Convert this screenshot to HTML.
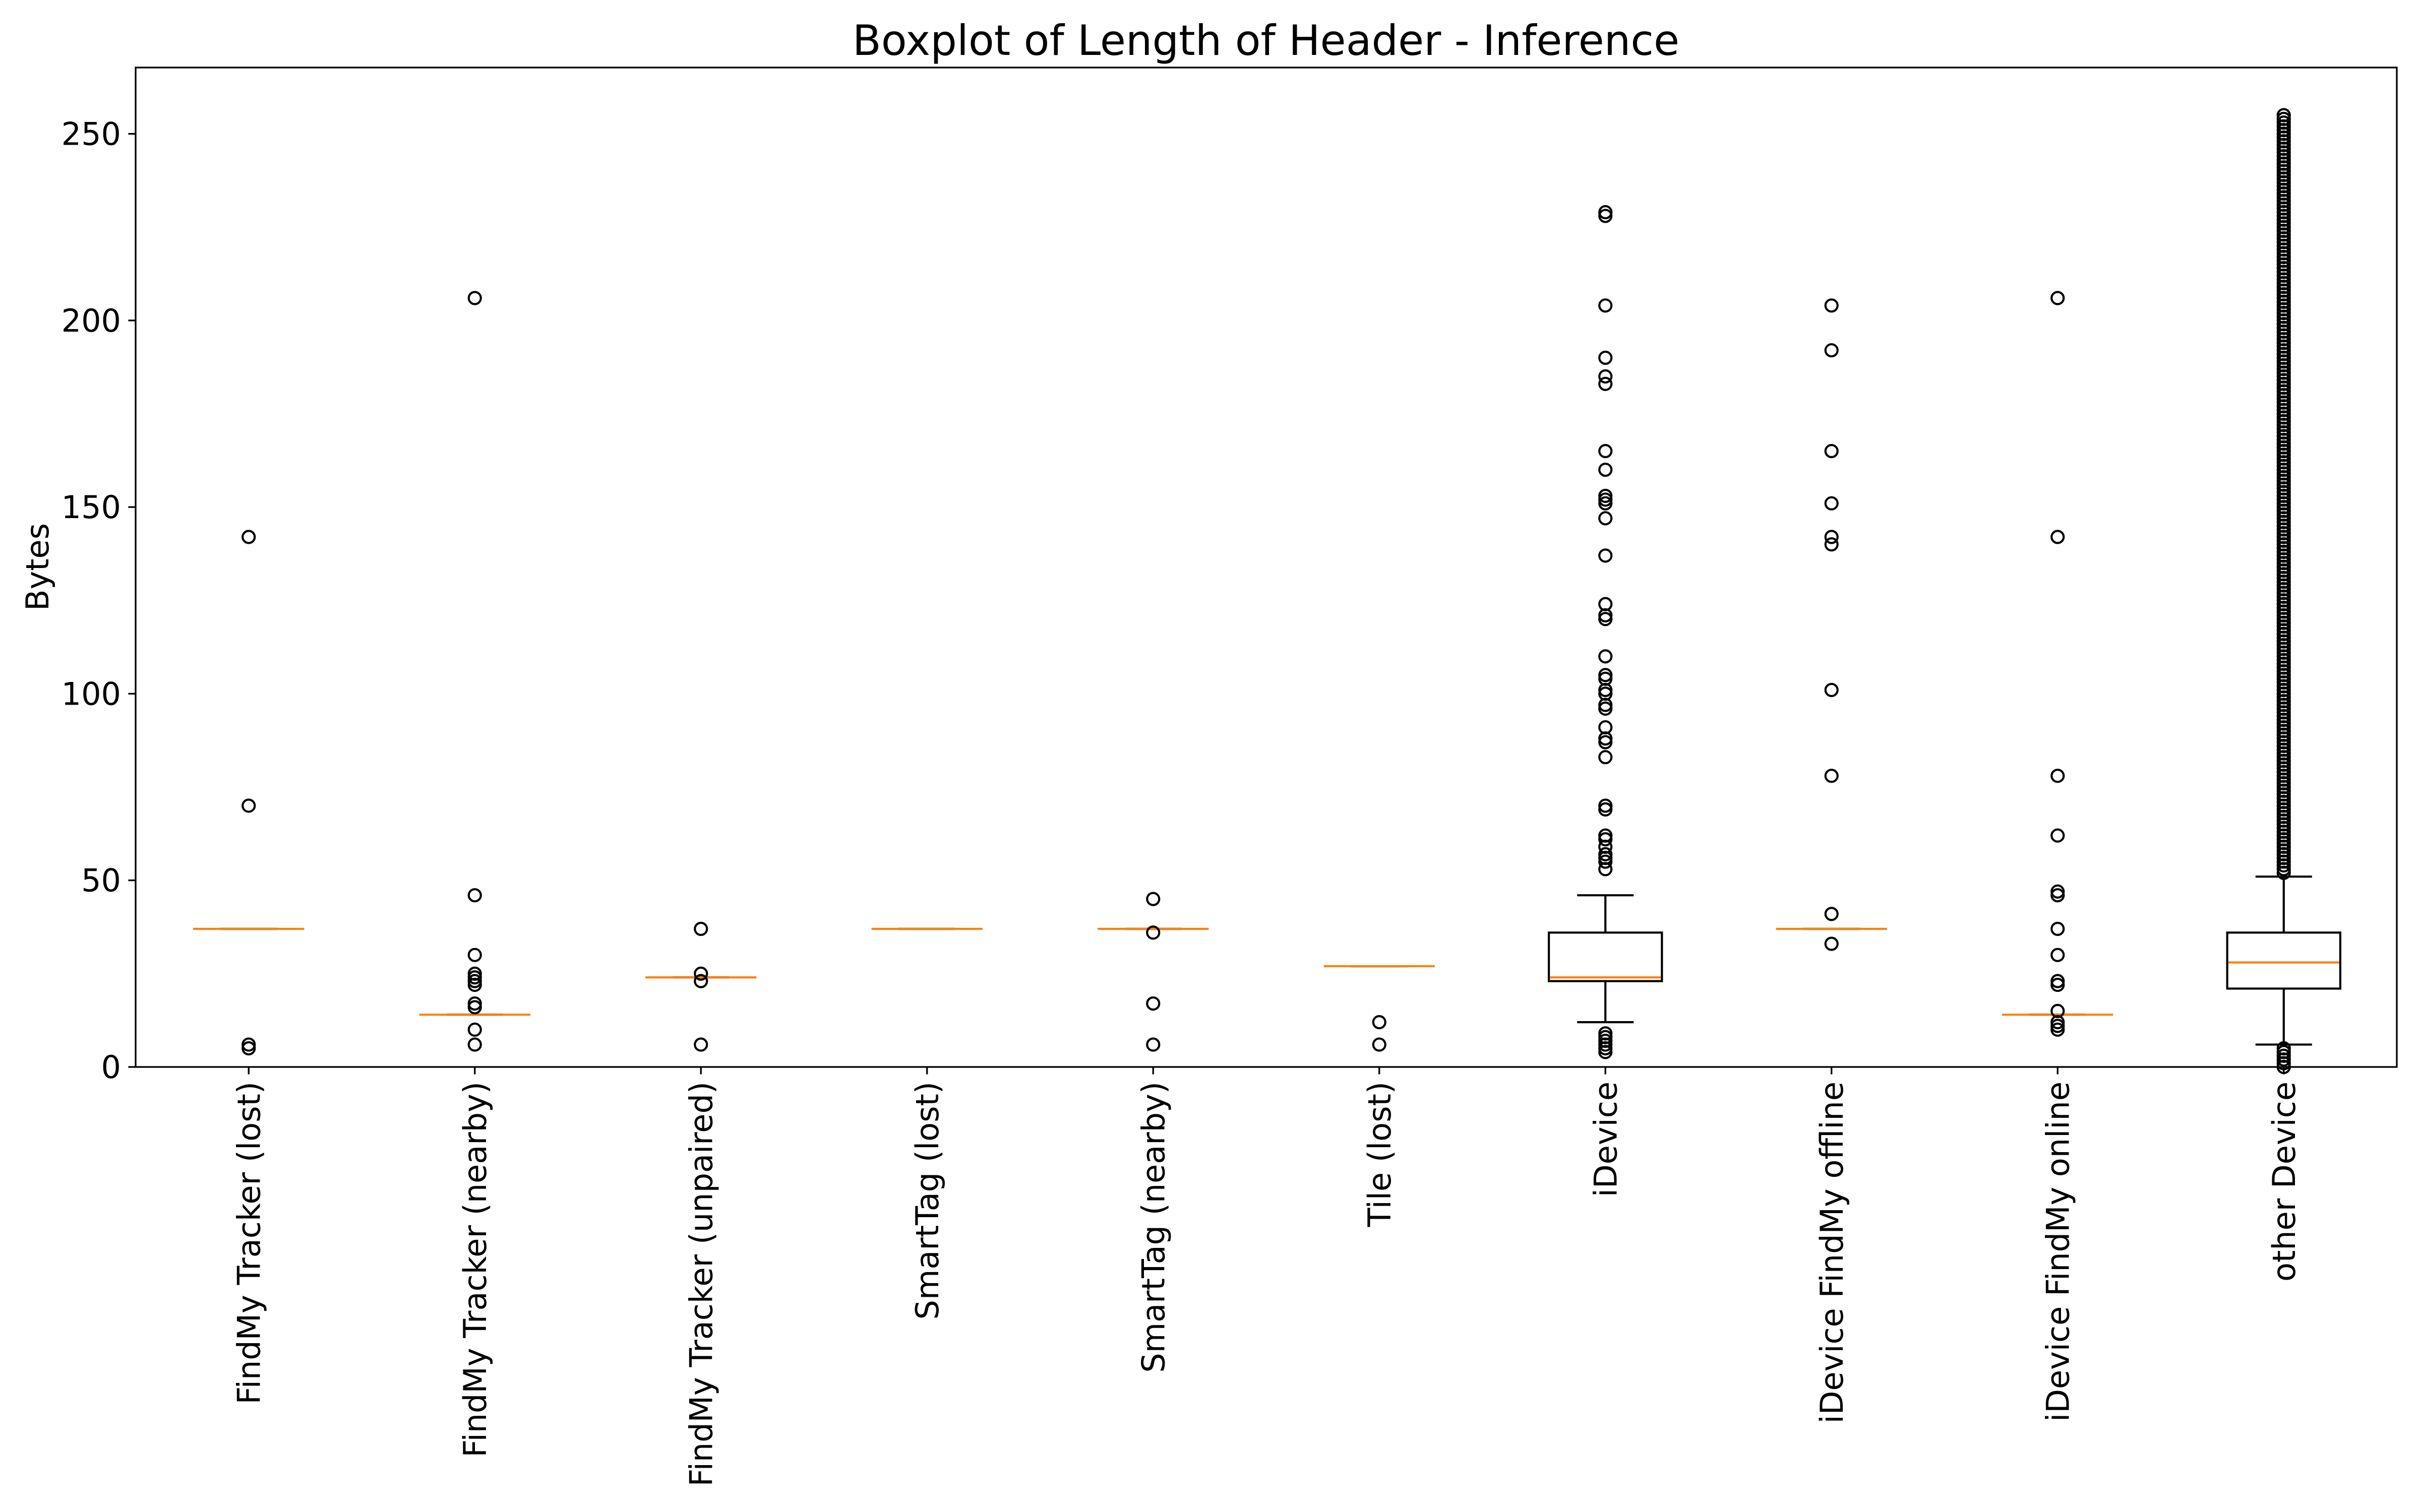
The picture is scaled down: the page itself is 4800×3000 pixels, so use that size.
<!DOCTYPE html>
<html><head><meta charset="utf-8"><style>
html,body{margin:0;padding:0;background:#fff;}
svg{display:block;font-family:"DejaVu Sans","Liberation Sans",sans-serif;}
</style></head><body>
<svg id="chart" width="4800" height="3000" viewBox="0 0 4800 3000" xmlns="http://www.w3.org/2000/svg">
<rect x="0" y="0" width="4800" height="3000" fill="#fff"/>
<text x="2511" y="109" font-size="83" text-anchor="middle">Boxplot of Length of Header - Inference</text>
<text transform="translate(96,1125) rotate(-90)" font-size="62" text-anchor="middle">Bytes</text>
<g id="marks"></g>
<rect x="269" y="134" width="4485" height="1983" fill="none" stroke="#000" stroke-width="3.3"/>
</svg>
<script>
const categories = ["FindMy Tracker (lost)","FindMy Tracker (nearby)","FindMy Tracker (unpaired)","SmartTag (lost)","SmartTag (nearby)","Tile (lost)","iDevice","iDevice FindMy offline","iDevice FindMy online","other Device"];
const medians = [37,14,24,37,37,27,24,37,14,28];
const q1s = [37,14,24,37,37,27,23,37,14,21];
const q3s = [37,14,24,37,37,27,36,37,14,36];
const whiskerLows = [37,14,24,37,37,27,12,37,14,6];
const whiskerHighs = [37,14,24,37,37,27,46,37,14,51];
const outliers = [
 [142,70,6,5],
 [206,46,30,25,24,23,22,17,16,10,6],
 [37,25,23,6],
 [],
 [45,36,17,6],
 [12,6],
 [229,228,204,190,185,183,165,160,153,152,151,147,137,124,121,120,110,105,104,101,100,97,96,91,88,87,83,70,69,62,61,59,57,56,55,53,9,8,7,6,5,4],
 [204,192,165,151,142,140,101,78,41,33],
 [206,142,78,62,47,46,37,30,23,22,15,12,11,10],
 [255,254,253,252,251,250,249,248,247,246,245,244,243,242,241,240,239,238,237,236,235,234,233,232,231,230,229,228,227,226,225,224,223,222,221,220,219,218,217,216,215,214,213,212,211,210,209,208,207,206,205,204,203,202,201,200,199,198,197,196,195,194,193,192,191,190,189,188,187,186,185,184,183,182,181,180,179,178,177,176,175,174,173,172,171,170,169,168,167,166,165,164,163,162,161,160,159,158,157,156,155,154,153,152,151,150,149,148,147,146,145,144,143,142,141,140,139,138,137,136,135,134,133,132,131,130,129,128,127,126,125,124,123,122,121,120,119,118,117,116,115,114,113,112,111,110,109,108,107,106,105,104,103,102,101,100,99,98,97,96,95,94,93,92,91,90,89,88,87,86,85,84,83,82,81,80,79,78,77,76,75,74,73,72,71,70,69,68,67,66,65,64,63,62,61,60,59,58,57,56,55,54,53,52,5,4,3,2,1,0]
];
const yTicks = [0,50,100,150,200,250];

const NS = "http://www.w3.org/2000/svg";
const L = 269, R = 4754, T = 134, B = 2117;
const step = (R - L) / categories.length;
function xPos(i){ return L + (i + 0.5) * step; }
function yPos(v){ return B - v * 7.406; }
const g = document.getElementById('marks');
const svg = document.getElementById('chart');
function mk(tag, attrs, parent){
  const e = document.createElementNS(NS, tag);
  for (const k in attrs) e.setAttribute(k, attrs[k]);
  (parent || g).appendChild(e);
  return e;
}
yTicks.forEach(t => {
  const tk = mk('line', {x1:L-14.6, x2:L, y1:yPos(t), y2:yPos(t), stroke:'#000', 'stroke-width':3.3}, svg);
  
  
  const lb = mk('text', {x:L-29, y:yPos(t)+22, 'font-size':62, 'text-anchor':'end'}, svg);
  lb.textContent = t;
  
  
});
categories.forEach((c, i) => {
  const x = xPos(i), bw = step * 0.5, cw = step * 0.25;
  const grp = mk('g', {});
  
  
  const s = {stroke:'#000', 'stroke-width':4.2, fill:'none'};
  const w1 = mk('line', Object.assign({x1:x, x2:x, y1:yPos(q1s[i]), y2:yPos(whiskerLows[i])}, s), grp);
  
  
  const w2 = mk('line', Object.assign({x1:x, x2:x, y1:yPos(q3s[i]), y2:yPos(whiskerHighs[i])}, s), grp);
  
  
  const c1 = mk('line', Object.assign({x1:x-cw/2, x2:x+cw/2, y1:yPos(whiskerLows[i]), y2:yPos(whiskerLows[i])}, s), grp);
  
  
  const c2 = mk('line', Object.assign({x1:x-cw/2, x2:x+cw/2, y1:yPos(whiskerHighs[i]), y2:yPos(whiskerHighs[i])}, s), grp);
  
  
  const bx = mk('rect', Object.assign({x:x-bw/2, y:yPos(q3s[i]), width:bw, height:Math.max(0, yPos(q1s[i]) - yPos(q3s[i]))}, s), grp);
  
  
  const md = mk('line', {x1:x-bw/2+2, x2:x+bw/2-2, y1:yPos(medians[i]), y2:yPos(medians[i]), stroke:'#ff7f0e', 'stroke-width':4.2}, grp);
  
  
  outliers[i].forEach(v => {
    const o = mk('circle', {cx:x, cy:yPos(v), r:12, fill:'none', stroke:'#000', 'stroke-width':4.2}, grp);
    
    
  });
  const xt = mk('line', {x1:x, x2:x, y1:B, y2:B+14.6, stroke:'#000', 'stroke-width':3.3}, svg);
  
  
  const xl = mk('text', {transform:'translate(' + (x+22) + ',' + (B+29) + ') rotate(-90)', 'font-size':62, 'text-anchor':'end'}, svg);
  xl.textContent = c;
  
  
});
</script>
</body></html>
